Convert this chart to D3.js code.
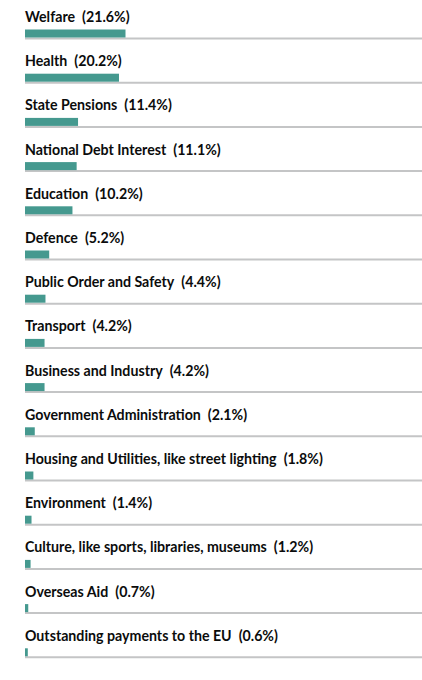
<!DOCTYPE html>
<html>
<head>
<meta charset="utf-8">
<script src="https://cdn.jsdelivr.net/npm/d3@7"></script>
<style>
  body { margin: 0; background: #fff; }
  .label { font-family: Lato, "Noto Sans", sans-serif; font-size: 14.2px; font-weight: 700; fill: #0b0c0c; }
  .rule { stroke: #c4c5c6; stroke-width: 2; }
  .bar { fill: #45998f; }
</style>
</head>
<body>
<div id="grafico"></div>
<script>
// spending categories and their share of total (%)
var categorias = [
  "Welfare", "Health", "State Pensions", "National Debt Interest", "Education",
  "Defence", "Public Order and Safety", "Transport", "Business and Industry",
  "Government Administration", "Housing and Utilities, like street lighting",
  "Environment", "Culture, like sports, libraries, museums", "Overseas Aid",
  "Outstanding payments to the EU"
];
var percentuais = [21.6, 20.2, 11.4, 11.1, 10.2, 5.2, 4.4, 4.2, 4.2, 2.1, 1.8, 1.4, 1.2, 0.7, 0.6];

function monta_grafico(){
	var width = 422, height = 680;

	var svg = d3.select("#grafico").append("svg")
		.attr("width", width)
		.attr("height", height);

	// x: share in percent -> pixels
	var x = d3.scaleLinear().domain([0, 21.6]).range([25, 125.5]);

	// y: position of each row's grey rule
	var y = d3.scalePoint()
		.domain(categorias)
		.range([38.5, 38.5 + 14 * 44.2]);

	var data = categorias.map(function(c, i) { return {nome: c, valor: percentuais[i]}; });

	var linha = svg.selectAll("g.row")
		.data(data)
	  .enter().append("g")
		.attr("class", "row")
		.attr("transform", function(d) { return "translate(0," + y(d.nome) + ")"; });

	// grey rule under each bar
	linha.append("line")
		.attr("class", "rule")
		.attr("x1", x(0))
		.attr("x2", width)
		.attr("y1", 0)
		.attr("y2", 0);

	linha.append("rect")
		.attr("class", "bar")
		.attr("x", x(0))
		.attr("y", -9)
		.attr("width", function(d) { return x(d.valor) - x(0); })
		.attr("height", 8);

	var txt = linha.append("text")
		.attr("class", "label")
		.attr("x", x(0))
		.attr("y", -16.5);
	txt.append("tspan").text(function(d) { return d.nome; });
	txt.append("tspan")
		.attr("dx", 7)
		.text(function(d) { return "(" + d.valor.toFixed(1) + "%)"; });
}
monta_grafico();
</script>
</body>
</html>
